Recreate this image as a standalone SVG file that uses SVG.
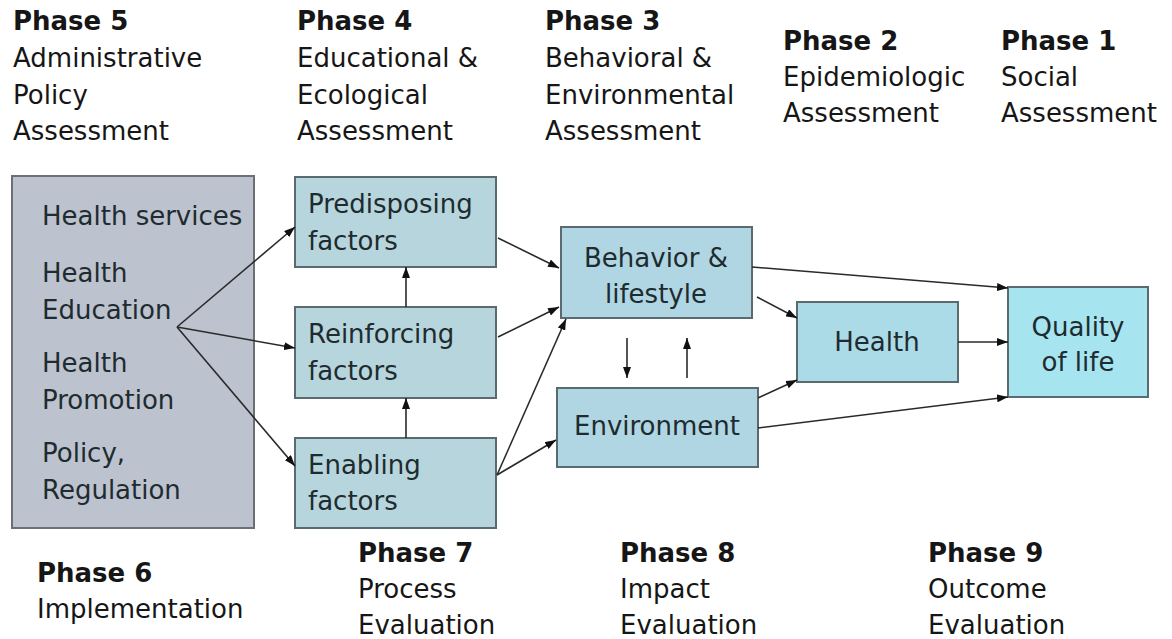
<svg xmlns="http://www.w3.org/2000/svg" width="1172" height="639" viewBox="0 0 1172 639">
<style>
text{font-family:"DejaVu Sans","Liberation Sans",sans-serif;font-size:26px;fill:#161616}
.ph{font-weight:bold}
.bt{fill:#1e2b2f}
.c{text-anchor:middle}
.gray{fill:#bcc2ce;stroke:#6c6f74;stroke-width:2}
.fac{fill:#b7d5dc;stroke:#5a6a6e;stroke-width:2}
.beh{fill:#afd6e2;stroke:#5a6a6e;stroke-width:2}
.hl{fill:#acdbe8;stroke:#5a6a6e;stroke-width:2}
.ql{fill:#a6e4f0;stroke:#5a6a6e;stroke-width:2}
.con line{stroke:#2a2a2a;stroke-width:1.6;marker-end:url(#ah)}
</style>
<defs>
<marker id="ah" markerUnits="userSpaceOnUse" markerWidth="11" markerHeight="8" refX="11" refY="4" orient="auto">
<path d="M0,0 L11,4 L0,8 z" fill="#111"/>
</marker>
</defs>
<rect width="1172" height="639" fill="#ffffff"/>

<g id="phase5"><text class="ph" x="13" y="30">Phase 5</text><text x="13" y="67">Administrative</text><text x="13" y="104">Policy</text><text x="13" y="140">Assessment</text></g>
<g id="phase4"><text class="ph" x="297" y="30">Phase 4</text><text x="297" y="67">Educational &amp;</text><text x="297" y="104">Ecological</text><text x="297" y="140">Assessment</text></g>
<g id="phase3"><text class="ph" x="545" y="30">Phase 3</text><text x="545" y="67">Behavioral &amp;</text><text x="545" y="104">Environmental</text><text x="545" y="140">Assessment</text></g>
<g id="phase2"><text class="ph" x="783" y="50">Phase 2</text><text x="783" y="86">Epidemiologic</text><text x="783" y="122">Assessment</text></g>
<g id="phase1"><text class="ph" x="1001" y="50">Phase 1</text><text x="1001" y="86">Social</text><text x="1001" y="122">Assessment</text></g>

<g id="phase6"><text class="ph" x="37" y="582">Phase 6</text><text x="37" y="618">Implementation</text></g>
<g id="phase7"><text class="ph" x="358" y="562">Phase 7</text><text x="358" y="598">Process</text><text x="358" y="634">Evaluation</text></g>
<g id="phase8"><text class="ph" x="620" y="562">Phase 8</text><text x="620" y="598">Impact</text><text x="620" y="634">Evaluation</text></g>
<g id="phase9"><text class="ph" x="928" y="562">Phase 9</text><text x="928" y="598">Outcome</text><text x="928" y="634">Evaluation</text></g>

<g id="interventions">
<rect class="gray" x="12" y="176" width="242" height="352"/>
<text class="bt" x="42" y="225">Health services</text>
<text class="bt" x="42" y="282">Health</text><text class="bt" x="42" y="319">Education</text>
<text class="bt" x="42" y="372">Health</text><text class="bt" x="42" y="409">Promotion</text>
<text class="bt" x="42" y="462">Policy,</text><text class="bt" x="42" y="499">Regulation</text>
</g>
<g id="predisposing"><rect class="fac" x="295" y="177" width="201" height="90"/><text class="bt" x="308" y="213">Predisposing</text><text class="bt" x="308" y="250">factors</text></g>
<g id="reinforcing"><rect class="fac" x="295" y="307" width="201" height="91"/><text class="bt" x="308" y="343">Reinforcing</text><text class="bt" x="308" y="380">factors</text></g>
<g id="enabling"><rect class="fac" x="295" y="438" width="201" height="90"/><text class="bt" x="308" y="474">Enabling</text><text class="bt" x="308" y="510">factors</text></g>
<g id="behavior"><rect class="beh" x="561" y="227" width="191" height="91"/><text class="bt c" x="656" y="267">Behavior &amp;</text><text class="bt c" x="656" y="303">lifestyle</text></g>
<g id="environment"><rect class="beh" x="557" y="388" width="201" height="79"/><text class="bt c" x="657" y="435">Environment</text></g>
<g id="health"><rect class="hl" x="797" y="302" width="161" height="80"/><text class="bt c" x="877" y="351">Health</text></g>
<g id="quality"><rect class="ql" x="1008" y="287" width="140" height="110"/><text class="bt c" x="1078" y="336">Quality</text><text class="bt c" x="1078" y="371">of life</text></g>

<g id="connectors" class="con">
<line x1="177" y1="327" x2="295" y2="227"/>
<line x1="177" y1="327" x2="295" y2="348"/>
<line x1="177" y1="327" x2="295" y2="466"/>
<line x1="406" y1="438" x2="406" y2="398"/>
<line x1="406" y1="307" x2="406" y2="267"/>
<line x1="498" y1="238" x2="559" y2="268"/>
<line x1="498" y1="337" x2="559" y2="307"/>
<line x1="497" y1="475" x2="566" y2="319"/>
<line x1="497" y1="475" x2="556" y2="440"/>
<line x1="627" y1="338" x2="627" y2="378"/>
<line x1="687" y1="378" x2="687" y2="338"/>
<line x1="752" y1="267" x2="1008" y2="288"/>
<line x1="757" y1="297" x2="797" y2="318"/>
<line x1="758" y1="398" x2="797" y2="380"/>
<line x1="758" y1="428" x2="1008" y2="397"/>
<line x1="958" y1="342" x2="1008" y2="342"/>
</g>
</svg>
